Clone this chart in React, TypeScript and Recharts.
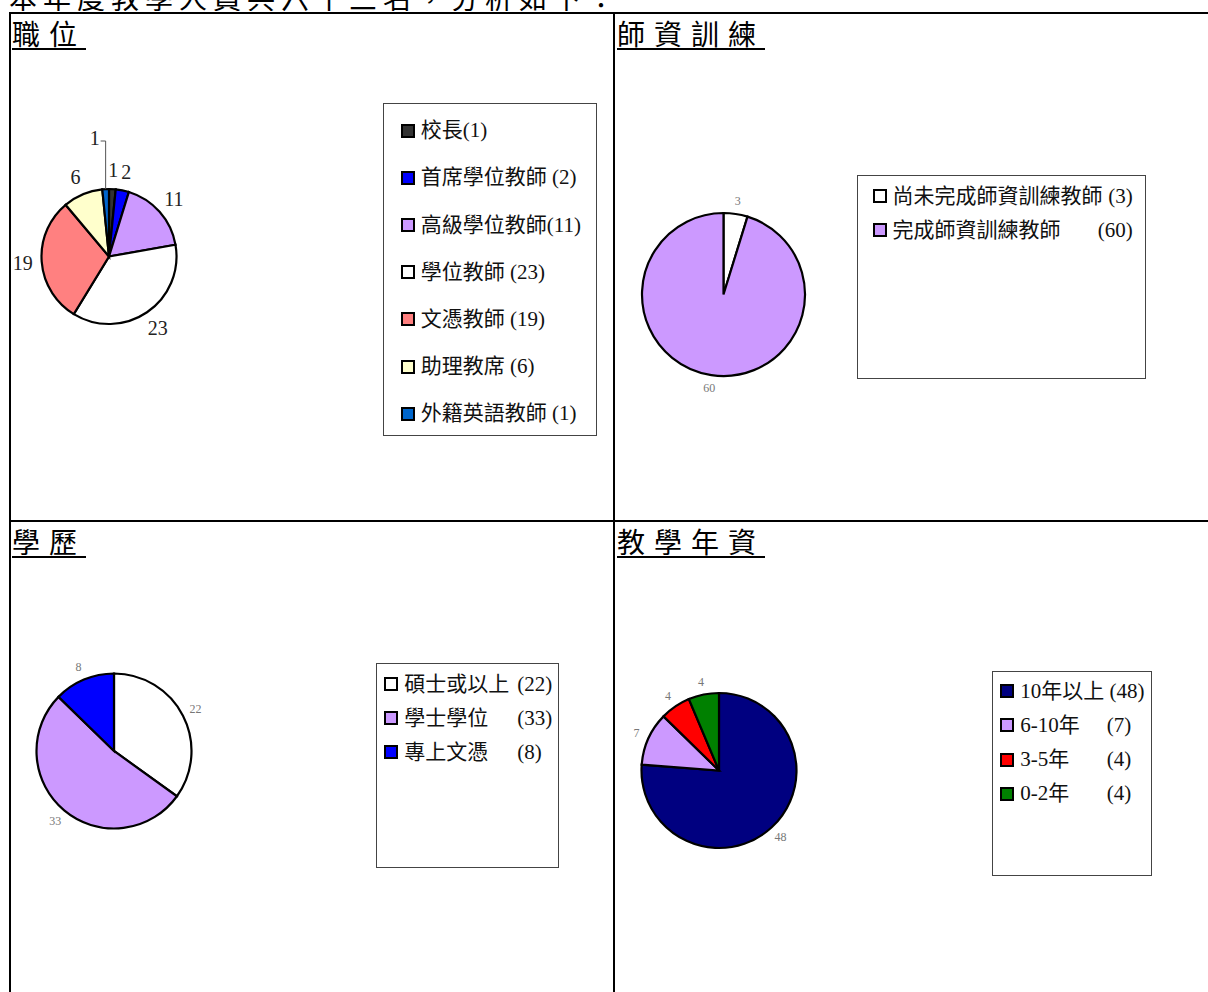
import React from 'react';
import { PieChart, Pie, Cell, Legend } from 'recharts';

const RAD = Math.PI / 180;
const polar = (cx: number, cy: number, r: number, a: number) => ({
  x: cx + r * Math.cos(-a * RAD),
  y: cy + r * Math.sin(-a * RAD),
});

const SERIF = '"Liberation Serif", "Noto Sans CJK TC", serif';
const CJK = '"Noto Sans CJK TC", "Liberation Serif", serif';

const introText = '本年度教學人員共六十三名，分析如下：';

// 職位
const posTitle = '職位';
const posNames = ['校長', '首席學位教師', '高級學位教師', '學位教師', '文憑教師', '助理教席', '外籍英語教師'];
const posValues = [1, 2, 11, 23, 19, 6, 1];
const posGaps = ['', ' ', '', ' ', ' ', ' ', ' '];
const posColors = ['#333333', '#0000FF', '#CC99FF', '#FFFFFF', '#FF8080', '#FFFFCC', '#0066CC'];

// 師資訓練
const trainTitle = '師資訓練';
const trainNames = ['尚未完成師資訓練教師', '完成師資訓練教師'];
const trainValues = [3, 60];
const trainColors = ['#FFFFFF', '#CC99FF'];

// 學歷
const eduTitle = '學歷';
const eduNames = ['碩士或以上', '學士學位', '專上文憑'];
const eduValues = [22, 33, 8];
const eduColors = ['#FFFFFF', '#CC99FF', '#0000FF'];

// 教學年資
const yearsTitle = '教學年資';
const yearsNames = ['10年以上', '6-10年', '3-5年', '0-2年'];
const yearsValues = [48, 7, 4, 4];
const yearsColors = ['#000080', '#CC99FF', '#FF0000', '#008000'];

const toData = (names: string[], values: number[]) => names.map((name, i) => ({ name, value: values[i] }));

type LegendCfg = {
  names: string[];
  values: number[];
  colors: string[];
  mode: 'inline' | 'tab' | 'right';
  gaps?: string[];
  tab?: number;
  rowH: number;
  padTop: number;
  markerLeft: number;
  padRight?: number;
};

function LegendBox({ cfg }: { cfg: LegendCfg }) {
  return (
    <div
      style={{
        width: '100%',
        height: '100%',
        boxSizing: 'border-box',
        border: '1px solid #444',
        background: '#fff',
        paddingTop: cfg.padTop,
        fontFamily: SERIF,
        fontSize: 21,
        color: '#111',
        lineHeight: 1,
      }}
    >
      {cfg.names.map((n, i) => (
        <div
          key={i}
          style={{
            height: cfg.rowH,
            display: 'flex',
            alignItems: 'center',
            paddingLeft: cfg.markerLeft,
            paddingRight: cfg.padRight || 0,
            whiteSpace: 'pre',
          }}
        >
          <span
            style={{
              width: 14,
              height: 14,
              boxSizing: 'border-box',
              border: '2px solid #000',
              background: cfg.colors[i],
              flex: 'none',
              marginRight: 6,
            }}
          />
          {cfg.mode === 'inline' && <span>{n + (cfg.gaps ? cfg.gaps[i] : ' ') + '(' + cfg.values[i] + ')'}</span>}
          {cfg.mode === 'tab' && (
            <>
              <span style={{ display: 'inline-block', minWidth: cfg.tab }}>{n + ' '}</span>
              <span>{'(' + cfg.values[i] + ')'}</span>
            </>
          )}
          {cfg.mode === 'right' && (
            <>
              <span>{n}</span>
              <span style={{ marginLeft: 'auto' }}>{'(' + cfg.values[i] + ')'}</span>
            </>
          )}
        </div>
      ))}
    </div>
  );
}

const makeLabel = (fontSize: number, color: string, gap: number, leaderIndex = -1) => (props: any) => {
  const { cx, cy, midAngle, outerRadius, index, value } = props;
  if (index === leaderIndex) {
    const edge = polar(cx, cy, outerRadius, midAngle);
    const elbowY = cy - outerRadius - 48;
    return (
      <g>
        <path d={`M${edge.x},${edge.y} V${elbowY} H${edge.x - 5}`} stroke="#555" strokeWidth={1} fill="none" />
        <text
          x={edge.x - 11}
          y={elbowY - 3}
          textAnchor="middle"
          dominantBaseline="central"
          fontSize={fontSize}
          fill={color}
          fontFamily={SERIF}
        >
          {value}
        </text>
      </g>
    );
  }
  const p = polar(cx, cy, outerRadius + gap, midAngle);
  return (
    <text
      x={p.x}
      y={p.y}
      textAnchor="middle"
      dominantBaseline="central"
      fontSize={fontSize}
      fill={color}
      fontFamily={SERIF}
    >
      {value}
    </text>
  );
};

type QuadProps = {
  left: number;
  top: number;
  width: number;
  height: number;
  data: { name: string; value: number }[];
  colors: string[];
  cx: number;
  cy: number;
  r: number;
  label: (p: any) => any;
  legend: LegendCfg;
  lg: { left: number; top: number; width: number; height: number };
};

function Quad(q: QuadProps) {
  return (
    <div style={{ position: 'absolute', left: q.left, top: q.top }}>
      <PieChart width={q.width} height={q.height} margin={{ top: 0, right: 0, bottom: 0, left: 0 }}>
        <Pie
          data={q.data}
          dataKey="value"
          nameKey="name"
          cx={q.cx}
          cy={q.cy}
          outerRadius={q.r}
          startAngle={90}
          endAngle={-270}
          stroke="#000"
          strokeWidth={2}
          labelLine={false}
          label={q.label}
          isAnimationActive={false}
        >
          {q.data.map((d, i) => (
            <Cell key={d.name} fill={q.colors[i]} stroke="#000" strokeWidth={2.2} />
          ))}
        </Pie>
        <Legend
          layout="vertical"
          align="center"
          verticalAlign="middle"
          width={q.lg.width}
          height={q.lg.height}
          wrapperStyle={{
            position: 'absolute',
            left: q.lg.left,
            top: q.lg.top,
            width: q.lg.width,
            height: q.lg.height,
            bottom: 'auto',
            right: 'auto',
          }}
          content={() => <LegendBox cfg={q.legend} />}
        />
      </PieChart>
    </div>
  );
}

function Title({ text, left, top }: { text: string; left: number; top: number }) {
  return (
    <div
      style={{
        position: 'absolute',
        left,
        top,
        fontFamily: CJK,
        fontSize: 28,
        lineHeight: '30px',
        letterSpacing: 9,
        color: '#000',
        borderBottom: '2px solid #000',
        whiteSpace: 'pre',
      }}
    >
      {text}
    </div>
  );
}

const line = (left: number, top: number, width: number, height: number) => (
  <div style={{ position: 'absolute', left, top, width, height, background: '#000' }} />
);

export default function App() {
  return (
    <div
      style={{
        position: 'fixed',
        left: 0,
        top: 0,
        width: 1208,
        height: 992,
        overflow: 'hidden',
        background: '#fff',
      }}
    >
      <div
        style={{
          position: 'absolute',
          left: 9,
          top: -17,
          height: 28,
          overflow: 'hidden',
          fontFamily: CJK,
          fontSize: 28,
          lineHeight: '28px',
          letterSpacing: 6,
          whiteSpace: 'pre',
          color: '#000',
        }}
      >
        {introText}
      </div>

      {line(9, 12, 1199, 2)}
      {line(9, 12, 2, 980)}
      {line(613, 12, 2, 980)}
      {line(9, 520, 1199, 2)}

      <Quad
        left={11}
        top={14}
        width={602}
        height={506}
        data={toData(posNames, posValues)}
        colors={posColors}
        cx={98}
        cy={242.5}
        r={67.5}
        label={makeLabel(20, '#222', 19, 6)}
        legend={{
          names: posNames,
          values: posValues,
          colors: posColors,
          mode: 'inline',
          gaps: posGaps,
          rowH: 47.2,
          padTop: 3.4,
          markerLeft: 17,
        }}
        lg={{ left: 371.7, top: 88.7, width: 214.3, height: 333.3 }}
      />
      <Quad
        left={615}
        top={14}
        width={593}
        height={506}
        data={toData(trainNames, trainValues)}
        colors={trainColors}
        cx={108.5}
        cy={280.5}
        r={81.5}
        label={makeLabel(12, '#777', 13.5)}
        legend={{
          names: trainNames,
          values: trainValues,
          colors: trainColors,
          mode: 'right',
          rowH: 34,
          padTop: 3,
          markerLeft: 15,
          padRight: 12,
        }}
        lg={{ left: 241.5, top: 161, width: 289.2, height: 204 }}
      />
      <Quad
        left={11}
        top={522}
        width={602}
        height={470}
        data={toData(eduNames, eduValues)}
        colors={eduColors}
        cx={103}
        cy={229}
        r={77.5}
        label={makeLabel(12, '#777', 14)}
        legend={{
          names: eduNames,
          values: eduValues,
          colors: eduColors,
          mode: 'tab',
          tab: 113,
          rowH: 34,
          padTop: 3.5,
          markerLeft: 7,
        }}
        lg={{ left: 365.2, top: 140.7, width: 182.5, height: 205.3 }}
      />
      <Quad
        left={615}
        top={522}
        width={593}
        height={470}
        data={toData(yearsNames, yearsValues)}
        colors={yearsColors}
        cx={104}
        cy={248.5}
        r={77.5}
        label={makeLabel(12, '#777', 13)}
        legend={{
          names: yearsNames,
          values: yearsValues,
          colors: yearsColors,
          mode: 'tab',
          tab: 86.5,
          rowH: 34.3,
          padTop: 2.2,
          markerLeft: 7,
        }}
        lg={{ left: 377.3, top: 148.7, width: 160, height: 205.3 }}
      />

      <Title text={posTitle} left={12} top={18} />
      <Title text={trainTitle} left={617} top={18} />
      <Title text={eduTitle} left={12} top={526} />
      <Title text={yearsTitle} left={617} top={526} />
    </div>
  );
}
